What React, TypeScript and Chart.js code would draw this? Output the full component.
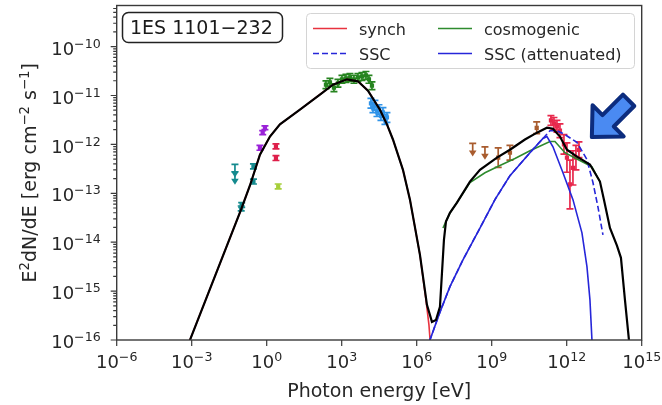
import React, { useEffect, useRef } from "react";
import { Chart, registerables } from "chart.js";
Chart.register(...registerables);

const FONT = '"DejaVu Sans", sans-serif';

// ---- axis ticks (exponents of 10) ----
const xTickExps = [-6, -3, 0, 3, 6, 9, 12, 15];
const yTickExps = [-16, -15, -14, -13, -12, -11, -10];
const xRangeExp = [-6, 15];
const yRangeExp = [-16, -9.16];

// ---- model curves: log10(E [eV]) and log10(E^2 dN/dE [erg cm^-2 s^-1]) ----
const totalLogE = [-3.15, -3.07, -1.03, -0.67, -0.27, 0.13, 0.53, 1.33, 2.13, 2.65, 3.21, 3.65, 4.05, 4.53, 4.81, 5.05, 5.45, 5.73, 6.13, 6.41, 6.61, 6.77, 6.93, 7.09, 7.17, 7.33, 7.61, 8.13, 8.53, 9.21, 9.73, 10.33, 10.81, 11.21, 11.45, 11.73, 12.01, 12.41, 12.93, 13.33, 13.49, 13.73, 14.01, 14.17, 14.33, 14.49, 14.57];
const totalLogF = [-16.16, -16.0, -13.34, -12.84, -12.21, -11.84, -11.59, -11.29, -10.98, -10.78, -10.67, -10.71, -10.9, -11.29, -11.59, -11.9, -12.52, -13.13, -14.26, -15.28, -15.63, -15.59, -15.32, -13.95, -13.58, -13.4, -13.19, -12.76, -12.52, -12.27, -12.11, -11.9, -11.76, -11.66, -11.68, -11.84, -12.11, -12.25, -12.41, -12.76, -13.13, -13.71, -14.07, -14.32, -15.18, -16.0, -16.41];

const synchLogE = [-3.15, -3.07, -1.03, -0.67, -0.27, 0.13, 0.53, 1.33, 2.13, 2.65, 3.21, 3.65, 4.05, 4.53, 4.81, 5.05, 5.45, 5.73, 6.13, 6.37, 6.49, 6.55];
const synchLogF = [-16.16, -16.0, -13.34, -12.84, -12.21, -11.84, -11.59, -11.29, -10.98, -10.78, -10.67, -10.71, -10.9, -11.29, -11.59, -11.9, -12.52, -13.13, -14.26, -15.18, -15.69, -16.1];

const cosmoLogE = [7.05, 7.17, 7.33, 7.61, 8.13, 8.73, 9.33, 9.93, 10.53, 11.33, 11.53, 11.93, 12.45, 13.01, 13.33];
const cosmoLogF = [-13.71, -13.58, -13.4, -13.19, -12.78, -12.58, -12.43, -12.29, -12.13, -11.94, -11.94, -12.17, -12.31, -12.46, -12.76];

const sscAttLogE = [6.45, 6.53, 6.93, 7.33, 7.85, 8.53, 9.13, 9.73, 10.53, 11.05, 11.21, 11.45, 11.85, 12.25, 12.61, 12.81, 12.93, 13.01, 13.03];
const sscAttLogF = [-16.2, -16.0, -15.43, -14.91, -14.36, -13.71, -13.13, -12.64, -12.17, -11.88, -11.84, -12.05, -12.58, -13.13, -13.81, -14.5, -15.18, -16.0, -16.41];

const sscLogE = [6.45, 6.53, 6.93, 7.33, 7.85, 8.53, 9.13, 9.73, 10.53, 11.05, 11.33, 11.61, 11.93, 12.41, 12.81, 13.05, 13.25, 13.45];
const sscLogF = [-16.2, -16.0, -15.43, -14.91, -14.36, -13.71, -13.13, -12.64, -12.17, -11.88, -11.72, -11.72, -11.8, -11.96, -12.31, -12.78, -13.28, -13.85];

// ---- data points: log10 E, log10 flux, error (dex) ----
const tealLogE = [-0.53, -0.53, -1.0, -1.02];
const tealLogF = [-12.45, -12.76, -13.24, -13.31];
const tealErr = [0.05, 0.05, 0.05, 0.05];
const tealUlLogE = [-1.27, -1.27];
const tealUlLogF = [-12.41, -12.56];

const purpleLogE = [-0.07, -0.16, -0.27];
const purpleLogF = [-11.66, -11.76, -12.07];
const purpleErr = [0.04, 0.04, 0.05];

const crimsonLogE = [0.37, 0.37];
const crimsonLogF = [-12.04, -12.28];
const crimsonErr = [0.05, 0.05];

const ygLogE = [0.46];
const ygLogF = [-12.86];
const ygErr = [0.05];

const uvLogE = [2.37, 2.53, 2.69, 2.85, 3.01, 3.17, 3.33, 3.49, 3.65, 3.81, 3.97, 4.09, 4.21];
const uvLogF = [-10.78, -10.73, -10.84, -10.75, -10.67, -10.65, -10.63, -10.67, -10.63, -10.61, -10.59, -10.67, -10.8];
const uvErr = [0.08, 0.08, 0.08, 0.08, 0.08, 0.08, 0.08, 0.08, 0.08, 0.08, 0.08, 0.08, 0.08];

const xrayLogE = [4.17, 4.25, 4.33, 4.41, 4.49, 4.57, 4.65, 4.73, 4.81];
const xrayLogF = [-11.16, -11.25, -11.2, -11.33, -11.29, -11.41, -11.35, -11.49, -11.45];
const xrayErr = [0.1, 0.1, 0.1, 0.1, 0.1, 0.1, 0.1, 0.1, 0.1];

const latLogE = [9.26, 9.73, 10.8];
const latLogF = [-12.27, -12.17, -11.66];
const latErr = [0.2, 0.15, 0.12];
const latUlLogE = [8.24, 8.73];
const latUlLogF = [-11.98, -12.05];

const hessLogE = [11.37, 11.49, 11.61, 11.73, 11.89, 12.01, 12.13, 12.25, 12.37, 12.49];
const hessLogF = [-11.51, -11.57, -11.63, -11.72, -12.0, -12.27, -12.82, -12.48, -12.27, -12.11];
const hessErr = [0.1, 0.12, 0.12, 0.14, 0.2, 0.3, 0.5, 0.35, 0.25, 0.16];

// annotation arrow tip (log10 E, log10 F)
const arrowTip = [12.95, -11.88];

const legendRows = [
  [{ label: "synch", color: "#e8323f", dash: [] as number[] }, { label: "cosmogenic", color: "#2e8b2e", dash: [] as number[] }],
  [{ label: "SSC", color: "#2626d9", dash: [6, 3] }, { label: "SSC (attenuated)", color: "#2626d9", dash: [] as number[] }],
];

const pts = (e: number[], f: number[]) => e.map((v, i) => ({ x: Math.pow(10, v), y: Math.pow(10, f[i]) }));

type Run = [string, boolean];
function runsWidth(ctx: CanvasRenderingContext2D, runs: Run[], size: number) {
  let w = 0;
  for (const [t, sup] of runs) {
    ctx.font = `${sup ? size * 0.7 : size}px ${FONT}`;
    w += ctx.measureText(t).width;
  }
  return w;
}
function drawRuns(ctx: CanvasRenderingContext2D, runs: Run[], x: number, y: number, size: number) {
  let cx = x;
  ctx.textAlign = "left";
  ctx.textBaseline = "alphabetic";
  for (const [t, sup] of runs) {
    ctx.font = `${sup ? size * 0.7 : size}px ${FONT}`;
    ctx.fillText(t, cx, sup ? y - size * 0.39 : y);
    cx += ctx.measureText(t).width;
  }
}
const expRuns = (n: number): Run[] => [["10", false], [n < 0 ? "\u2212" + Math.abs(n) : String(n), true]];

const decorPlugin = {
  id: "decor",
  beforeDatasetsDraw(chart: any) {
    const ctx: CanvasRenderingContext2D = chart.ctx;
    const xs = chart.scales.x, ys = chart.scales.y;
    const a = chart.chartArea;
    ctx.save();
    ctx.beginPath();
    ctx.rect(a.left, a.top, a.right - a.left, a.bottom - a.top);
    ctx.clip();
    chart.data.datasets.forEach((ds: any) => {
      if (!ds.logE) return;
      ctx.strokeStyle = ds.barColor;
      ctx.fillStyle = ds.barColor;
      ctx.lineWidth = 1.7;
      ds.logE.forEach((e: number, i: number) => {
        const x = xs.getPixelForValue(Math.pow(10, e));
        if (ds.upper) {
          const y0 = ys.getPixelForValue(Math.pow(10, ds.logF[i]));
          ctx.beginPath();
          ctx.moveTo(x - 3.5, y0); ctx.lineTo(x + 3.5, y0);
          ctx.moveTo(x, y0); ctx.lineTo(x, y0 + 8);
          ctx.stroke();
          ctx.beginPath();
          ctx.moveTo(x - 3.8, y0 + 7); ctx.lineTo(x + 3.8, y0 + 7); ctx.lineTo(x, y0 + 13); ctx.closePath();
          ctx.fill();
        } else {
          const err = ds.err[i];
          const yt = ys.getPixelForValue(Math.pow(10, ds.logF[i] + err));
          const yb = ys.getPixelForValue(Math.pow(10, ds.logF[i] - err));
          ctx.beginPath();
          ctx.moveTo(x, yt); ctx.lineTo(x, yb);
          ctx.moveTo(x - 3.5, yt); ctx.lineTo(x + 3.5, yt);
          ctx.moveTo(x - 3.5, yb); ctx.lineTo(x + 3.5, yb);
          ctx.stroke();
        }
      });
    });
    ctx.restore();
  },
  afterDraw(chart: any) {
    const ctx: CanvasRenderingContext2D = chart.ctx;
    const xs = chart.scales.x, ys = chart.scales.y;
    const a = chart.chartArea;
    ctx.save();
    // frame
    ctx.strokeStyle = "#3a3a3a";
    ctx.lineWidth = 1.4;
    ctx.strokeRect(a.left, a.top, a.right - a.left, a.bottom - a.top);
    // ticks
    ctx.lineWidth = 1.2;
    ctx.beginPath();
    for (const n of xTickExps) {
      const x = xs.getPixelForValue(Math.pow(10, n));
      ctx.moveTo(x, a.bottom); ctx.lineTo(x, a.bottom + 6);
    }
    for (let n = yTickExps[0]; n <= -10; n++) {
      for (let k = 1; k <= 9; k++) {
        const v = k * Math.pow(10, n);
        if (Math.log10(v) > yRangeExp[1]) continue;
        const y = ys.getPixelForValue(v);
        ctx.moveTo(a.left, y); ctx.lineTo(a.left - (k === 1 ? 6 : 3.5), y);
      }
    }
    ctx.stroke();
    // tick labels
    ctx.fillStyle = "#262626";
    const fs = 18;
    for (const n of xTickExps) {
      const x = xs.getPixelForValue(Math.pow(10, n));
      const r = expRuns(n);
      const w = runsWidth(ctx, r, fs);
      drawRuns(ctx, r, x - w / 2, a.bottom + 28, fs);
    }
    for (const n of yTickExps) {
      const y = ys.getPixelForValue(Math.pow(10, n));
      const r = expRuns(n);
      const w = runsWidth(ctx, r, fs);
      drawRuns(ctx, r, a.left - 16 - w, y + 8.2, fs);
    }
    // axis titles
    const ts = 19;
    const xr: Run[] = [["Photon energy [eV]", false]];
    const xw = runsWidth(ctx, xr, ts);
    drawRuns(ctx, xr, (a.left + a.right) / 2 - xw / 2, 396.5, ts);
    const yr: Run[] = [["E", false], ["2", true], ["dN/dE [erg cm", false], ["\u22122", true], [" s", false], ["\u22121", true], ["]", false]];
    const yw = runsWidth(ctx, yr, ts);
    ctx.save();
    ctx.translate(36, (a.top + a.bottom) / 2);
    ctx.rotate(-Math.PI / 2);
    drawRuns(ctx, yr, -yw / 2, 0, ts);
    ctx.restore();
    // title box
    ctx.beginPath();
    (ctx as any).roundRect(122.5, 12.5, 160, 30, 6);
    ctx.fillStyle = "#ffffff";
    ctx.fill();
    ctx.strokeStyle = "#222";
    ctx.lineWidth = 1.5;
    ctx.stroke();
    ctx.fillStyle = "#1a1a1a";
    ctx.font = `19px ${FONT}`;
    ctx.textAlign = "left";
    ctx.textBaseline = "alphabetic";
    ctx.fillText("1ES 1101\u2212232", 130, 34);
    // legend
    ctx.beginPath();
    (ctx as any).roundRect(306.5, 13.5, 328, 55, 4);
    ctx.fillStyle = "rgba(255,255,255,0.85)";
    ctx.fill();
    ctx.strokeStyle = "#d4d4d4";
    ctx.lineWidth = 1;
    ctx.stroke();
    const rowY = [28.5, 53.5];
    const colX = [313, 438];
    ctx.font = `16px ${FONT}`;
    legendRows.forEach((row, ri) => {
      row.forEach((it, ci) => {
        ctx.strokeStyle = it.color;
        ctx.lineWidth = 1.6;
        ctx.setLineDash(it.dash);
        ctx.beginPath();
        ctx.moveTo(colX[ci], rowY[ri]); ctx.lineTo(colX[ci] + 34, rowY[ri]);
        ctx.stroke();
        ctx.setLineDash([]);
        ctx.fillStyle = "#262626";
        ctx.fillText(it.label, colX[ci] + 46, rowY[ri] + 6);
      });
    });
    // annotation arrow
    const tx = xs.getPixelForValue(Math.pow(10, arrowTip[0]));
    const ty = ys.getPixelForValue(Math.pow(10, arrowTip[1]));
    const u = [Math.SQRT1_2, -Math.SQRT1_2];
    const v = [Math.SQRT1_2, Math.SQRT1_2];
    const shape = [[2, 0], [25, -22], [25, -8], [54, -8], [54, 8], [25, 8], [25, 22]];
    ctx.beginPath();
    shape.forEach(([p, q], i) => {
      const X = tx + p * u[0] + q * v[0];
      const Y = ty + p * u[1] + q * v[1];
      if (i === 0) ctx.moveTo(X, Y); else ctx.lineTo(X, Y);
    });
    ctx.closePath();
    ctx.fillStyle = "#4a8af2";
    ctx.fill();
    ctx.strokeStyle = "#0c2c7e";
    ctx.lineWidth = 4;
    ctx.lineJoin = "round";
    ctx.stroke();
    ctx.restore();
  },
};

function lineDs(e: number[], f: number[], color: string, width: number, dash: number[] = []) {
  return {
    type: "scatter" as const,
    data: pts(e, f),
    showLine: true,
    borderColor: color,
    borderWidth: width,
    borderDash: dash,
    pointRadius: 0,
    fill: false,
    clip: 0,
    tension: 0,
  };
}
function dataDs(e: number[], f: number[], err: number[], color: string) {
  return {
    type: "scatter" as const,
    data: pts(e, f),
    logE: e, logF: f, err, barColor: color,
    pointStyle: "rect",
    pointRadius: 3,
    backgroundColor: color,
    borderColor: color,
    borderWidth: 0,
    showLine: false,
  };
}
function ulDs(e: number[], f: number[], color: string) {
  return {
    type: "scatter" as const,
    data: pts(e, f),
    logE: e, logF: f, upper: true, barColor: color,
    pointRadius: 0,
    showLine: false,
  };
}

export default function App() {
  const ref = useRef<HTMLCanvasElement | null>(null);
  useEffect(() => {
    if (!ref.current) return;
    const chart = new Chart(ref.current, {
      type: "scatter",
      data: {
        datasets: [
          lineDs(totalLogE, totalLogF, "#000000", 2.2),
          lineDs(sscAttLogE, sscAttLogF, "#2626d9", 1.6),
          lineDs(sscLogE, sscLogF, "#2626d9", 1.6, [6, 3]),
          lineDs(cosmoLogE, cosmoLogF, "#2e8b2e", 1.6),
          lineDs(synchLogE, synchLogF, "#e8323f", 1.6),
          dataDs(tealLogE, tealLogF, tealErr, "#148a8e"),
          ulDs(tealUlLogE, tealUlLogF, "#148a8e"),
          dataDs(purpleLogE, purpleLogF, purpleErr, "#9a22d8"),
          dataDs(crimsonLogE, crimsonLogF, crimsonErr, "#de1f4a"),
          dataDs(ygLogE, ygLogF, ygErr, "#a6cf3a"),
          dataDs(uvLogE, uvLogF, uvErr, "#26841f"),
          dataDs(xrayLogE, xrayLogF, xrayErr, "#2f93e8"),
          dataDs(latLogE, latLogF, latErr, "#a95c2e"),
          ulDs(latUlLogE, latUlLogF, "#a95c2e"),
          dataDs(hessLogE, hessLogF, hessErr, "#e8284c"),
        ] as any,
      },
      options: {
        responsive: false,
        animation: false,
        devicePixelRatio: 1,
        events: [],
        layout: { padding: { top: 5.5, right: 20.3, left: 0, bottom: 0 } },
        plugins: { legend: { display: false }, tooltip: { enabled: false } },
        scales: {
          x: {
            type: "logarithmic",
            min: Math.pow(10, xRangeExp[0]),
            max: Math.pow(10, xRangeExp[1]),
            ticks: { display: false },
            grid: { display: false },
            border: { display: false },
            afterFit: (s: any) => { s.height = 65; },
          },
          y: {
            type: "logarithmic",
            min: Math.pow(10, yRangeExp[0]),
            max: Math.pow(10, yRangeExp[1]),
            ticks: { display: false },
            grid: { display: false },
            border: { display: false },
            afterFit: (s: any) => { s.width = 116.7; },
          },
        },
      } as any,
      plugins: [decorPlugin],
    });
    return () => chart.destroy();
  }, []);
  return (
    <div style={{ position: "fixed", left: 0, top: 0, width: 662, height: 405, background: "#fff" }}>
      <canvas ref={ref} width={662} height={405} style={{ display: "block" }} />
    </div>
  );
}
